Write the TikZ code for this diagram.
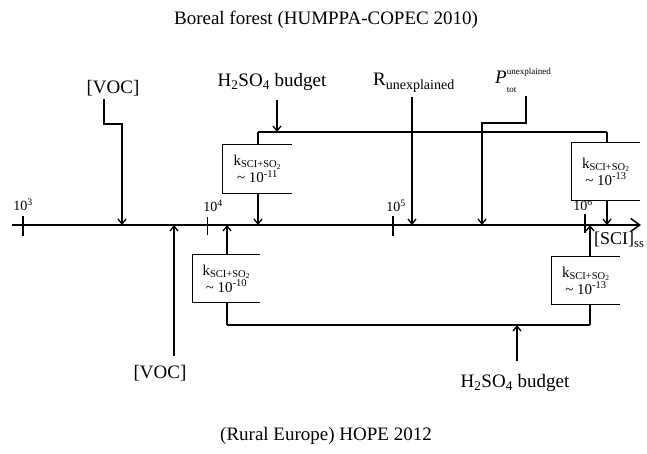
\documentclass[tikz,border=0pt]{standalone}
\usepackage{fontspec}
\setmainfont{Liberation Serif}
\usetikzlibrary{arrows.meta}
\newcommand{\fsz}[1]{\fontsize{#1}{#1}\selectfont}
\begin{document}
\begin{tikzpicture}[x=1pt,y=-1pt,
  conn/.style={line width=1.3pt},
  tip/.style={-{Straight Barb[length=5pt,width=8pt,line width=1.3pt]}},
  lbl/.style={inner sep=0pt,font=\fsz{19}},
  ttl/.style={inner sep=0pt,font=\fsz{19}},
  tick/.style={line width=1.3pt},
  ticklbl/.style={inner sep=0pt,font=\fsz{14}},
  kbox/.style={fill=white,inner sep=0pt,align=center,font=\fsz{15}},
]
\useasboundingbox (0,0) rectangle (647,454);
% titles
\node[ttl] (title) at (326,20) {Boreal forest (HUMPPA-COPEC 2010)};
\node[ttl] (btitle) at (326,436) {(Rural Europe) HOPE 2012};
% axis
\coordinate (axL) at (12,225);
\coordinate (axR) at (641,225);
\draw[line width=1.6pt,-{Straight Barb[length=9pt,width=13pt,line width=1.5pt]}] (axL) -- (axR);
\coordinate (t3a) at (23,216); \coordinate (t3b) at (23,236);
\coordinate (t4a) at (207,217); \coordinate (t4b) at (207,235);
\coordinate (t5a) at (393,216); \coordinate (t5b) at (393,236);
\coordinate (t6a) at (585,214); \coordinate (t6b) at (585,233);
\draw[tick] (t3a) -- (t3b);
\draw[line width=0.7pt] (t4a) -- (t4b);
\draw[tick] (t5a) -- (t5b);
\draw[tick] (t6a) -- (t6b);
\node[ticklbl] (l3) at (23,205) {10\textsuperscript{3}};
\node[ticklbl] (l4) at (213,206) {10\textsuperscript{4}};
\node[ticklbl] (l5) at (396,206) {10\textsuperscript{5}};
\node[ticklbl] (l6) at (583,205) {10\textsuperscript{6}};
\node[inner sep=0pt,anchor=west,font=\fsz{18}] (sci) at (594,240) {[SCI]\textsubscript{ss}};
% top labels
\node[lbl] (vocT) at (113,88) {[VOC]};
\node[lbl] (h2T) at (272,82) {H\textsubscript{2}SO\textsubscript{4} budget};
\node[lbl] (rT) at (414,83) {R\textsubscript{\fsz{14}unexplained}};
\node[lbl,anchor=base west] (pT) at (495,84) {\textit{P}\makebox[0pt][l]{\raisebox{9pt}{\fsz{9}unexplained}}\raisebox{-9pt}{\fsz{9}tot}};
% bottom labels
\node[lbl] (vocB) at (160,373) {[VOC]};
\node[lbl] (h2B) at (515,383) {H\textsubscript{2}SO\textsubscript{4} budget};
% top connectors
\coordinate (v1) at (104,99); \coordinate (v2) at (104,124);
\coordinate (v3) at (122,124); \coordinate (va) at (122,225);
\draw[conn,tip] (v1) -- (v2) -- (v3) -- (va);
\coordinate (h1) at (277,100); \coordinate (h2) at (277,132);
\draw[conn,tip] (h1) -- (h2);
\coordinate (jTL) at (258,132); \coordinate (jTR) at (607,132);
\coordinate (aTL) at (258,225); \coordinate (aTR) at (607,225);
\draw[conn] (jTL) -- (jTR);
\draw[conn,tip] (jTL) -- (aTL);
\draw[conn,tip] (jTR) -- (aTR);
\coordinate (r1) at (412,97); \coordinate (ra) at (412,225);
\draw[conn,tip] (r1) -- (ra);
\coordinate (p1) at (526,96); \coordinate (p2) at (526,123);
\coordinate (p3) at (482,123); \coordinate (pa) at (482,225);
\draw[conn,tip] (p1) -- (p2) -- (p3) -- (pa);
% bottom connectors
\coordinate (vb1) at (174,356); \coordinate (vba) at (174,225);
\draw[conn,tip] (vb1) -- (vba);
\coordinate (aBL) at (227,225); \coordinate (jBL) at (227,325);
\coordinate (aBR) at (590,225); \coordinate (jBR) at (590,325);
\draw[conn,tip] (jBL) -- (aBL);
\draw[conn,tip] (jBR) -- (aBR);
\draw[conn] (jBL) -- (jBR);
\coordinate (hb1) at (517,361); \coordinate (hb2) at (517,325);
\draw[conn,tip] (hb1) -- (hb2);
% boxes
\node[kbox,minimum width=69pt,minimum height=48pt] (bTL) at (257.5,169) {k\textsubscript{SCI+SO\textsubscript{2}}\\{\textasciitilde} 10\textsuperscript{-11}};
\node[kbox,minimum width=68pt,minimum height=57pt] (bTR) at (606,171.5) {k\textsubscript{SCI+SO\textsubscript{2}}\\{\textasciitilde} 10\textsuperscript{-13}};
\node[kbox,minimum width=67pt,minimum height=47pt] (bBL) at (226.5,278.5) {k\textsubscript{SCI+SO\textsubscript{2}}\\{\textasciitilde} 10\textsuperscript{-10}};
\node[kbox,minimum width=68pt,minimum height=47pt] (bBR) at (586,280.5) {k\textsubscript{SCI+SO\textsubscript{2}}\\{\textasciitilde} 10\textsuperscript{-13}};
\foreach \b in {bTL,bTR,bBL,bBR}
  \draw[line width=1.1pt] (\b.north east) -- (\b.north west) -- (\b.south west) -- (\b.south east);
\end{tikzpicture}
\end{document}
